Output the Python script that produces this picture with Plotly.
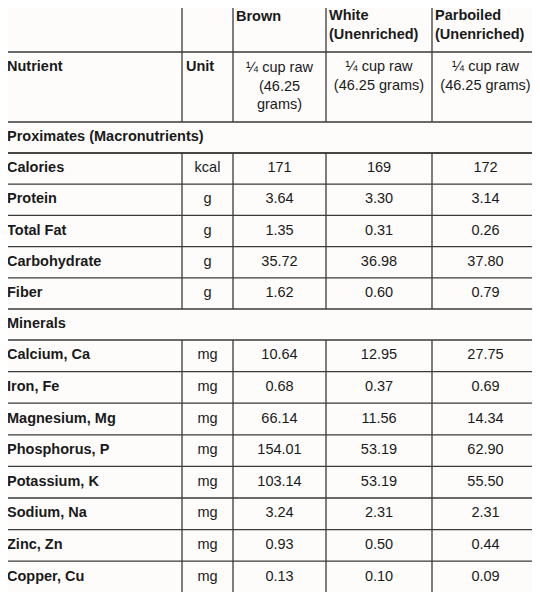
import plotly.graph_objects as go

W, H = 540, 592
OFF = 8  # page body margin compensation
columns = ["Brown", "White<br>(Unenriched)", "Parboiled<br>(Unenriched)"]
servings = ["¼ cup raw<br>(46.25<br>grams)", "¼ cup raw<br>(46.25 grams)", "¼ cup raw<br>(46.25 grams)"]
sections = ["Proximates (Macronutrients)", "Minerals"]
prox_names = ["Calories", "Protein", "Total Fat", "Carbohydrate", "Fiber"]
prox_units = ["kcal", "g", "g", "g", "g"]
prox_brown = ["171", "3.64", "1.35", "35.72", "1.62"]
prox_white = ["169", "3.30", "0.31", "36.98", "0.60"]
prox_parb = ["172", "3.14", "0.26", "37.80", "0.79"]
min_names = ["Calcium, Ca", "Iron, Fe", "Magnesium, Mg", "Phosphorus, P", "Potassium, K",
             "Sodium, Na", "Zinc, Zn", "Copper, Cu"]
min_units = ["mg"] * 8
min_brown = ["10.64", "0.68", "66.14", "154.01", "103.14", "3.24", "0.93", "0.13"]
min_white = ["12.95", "0.37", "11.56", "53.19", "53.19", "2.31", "0.50", "0.10"]
min_parb = ["27.75", "0.69", "14.34", "62.90", "55.50", "2.31", "0.44", "0.09"]

xs = [2, 182, 233, 326, 432, 539]
hdr = [2, 52, 122]
prox_top, row_h1 = 153, 31.2
min_top, row_h2 = 340, 31.6

FONT = "Liberation Sans, Arial, sans-serif"
FS = 14.5
fig = go.Figure()
shapes = []
LC = "#3a3a3a"
def hline(y, x0=xs[0], x1=xs[-1]):
    shapes.append(dict(type="line", x0=x0, x1=x1, y0=y, y1=y, line=dict(color=LC, width=1.3)))
def vline(x, y0, y1):
    shapes.append(dict(type="line", x0=x, x1=x, y0=y0, y1=y1, line=dict(color=LC, width=1.3)))

for y in hdr: hline(y)
for x in xs: vline(x, hdr[0], hdr[2])
hline(prox_top)
vline(xs[0], hdr[2], prox_top); vline(xs[-1], hdr[2], prox_top)
rows1 = [prox_top + i * row_h1 for i in range(len(prox_names) + 1)]
for y in rows1: hline(y)
for x in xs: vline(x, rows1[0], rows1[-1])
vline(xs[0], rows1[-1], min_top); vline(xs[-1], rows1[-1], min_top)
rows2 = [min_top + i * row_h2 for i in range(len(min_names) + 1)]
for y in rows2: hline(y)
for x in xs: vline(x, rows2[0], H + 20)

def add_text(x, y, t, pos, bold=False):
    fig.add_trace(go.Scatter(x=x, y=y, text=[f"<b>{s}</b>" if bold else s for s in t],
                             mode="text", textposition=pos,
                             textfont=dict(family=FONT, size=FS, color="#1a1a1a"),
                             hoverinfo="skip", showlegend=False))

add_text([xs[2] + 3, xs[3] + 3, xs[4] + 3], [17, 26, 26], columns, "middle right", True)
add_text([xs[0] + 5, xs[1] + 4], [67, 67], ["Nutrient", "Unit"], "middle right", True)
add_text([(xs[2] + xs[3]) / 2, (xs[3] + xs[4]) / 2, (xs[4] + xs[5]) / 2], [87, 77, 77], servings, "middle center")
add_text([xs[0] + 5], [(hdr[2] + prox_top) / 2], [sections[0]], "middle right", True)
add_text([xs[0] + 5], [(rows1[-1] + min_top) / 2], [sections[1]], "middle right", True)

def block(names, units, b, w, p, rows):
    cy = [(rows[i] + rows[i + 1]) / 2 for i in range(len(names))]
    add_text([xs[0] + 5] * len(names), cy, names, "middle right", True)
    add_text([(xs[1] + xs[2]) / 2] * len(names), cy, units, "middle center")
    add_text([(xs[2] + xs[3]) / 2] * len(names), cy, b, "middle center")
    add_text([(xs[3] + xs[4]) / 2] * len(names), cy, w, "middle center")
    add_text([(xs[4] + xs[5]) / 2] * len(names), cy, p, "middle center")

block(prox_names, prox_units, prox_brown, prox_white, prox_parb, rows1)
block(min_names, min_units, min_brown, min_white, min_parb, rows2)

fig.update_layout(width=W, height=H, margin=dict(l=0, r=0, t=0, b=0),
                  paper_bgcolor="#fdfcfa", plot_bgcolor="#fdfcfa", shapes=shapes,
                  xaxis=dict(range=[OFF, W + OFF], visible=False, fixedrange=True),
                  yaxis=dict(range=[H + OFF, OFF], visible=False, fixedrange=True))
fig.write_html("out.html", config={"displayModeBar": False})
